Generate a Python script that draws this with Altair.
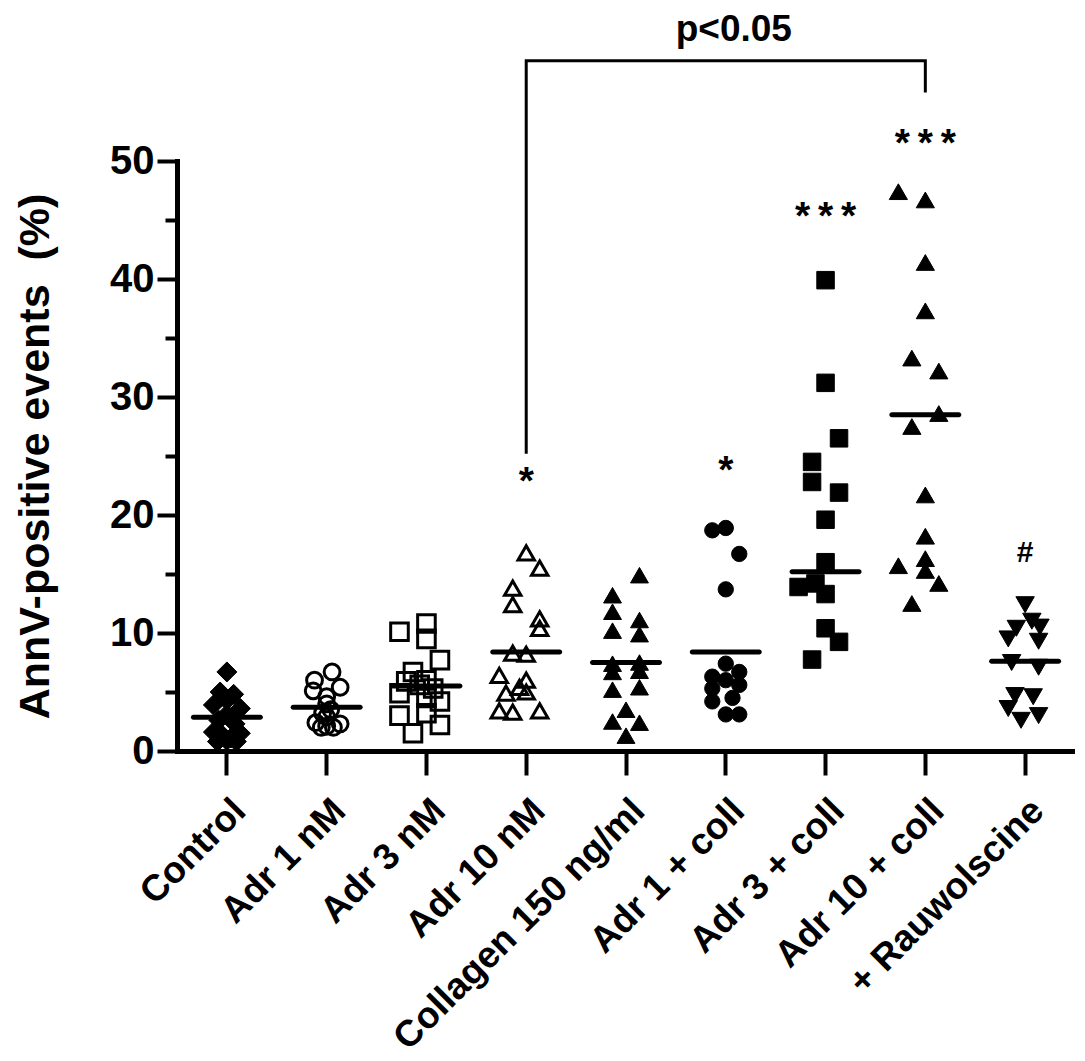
import altair as alt
import pandas as pd

categories = ["Control", "Adr 1 nM", "Adr 3 nM", "Adr 10 nM", "Collagen 150 ng/ml",
              "Adr 1 + coll", "Adr 3 + coll", "Adr 10 + coll", "+ Rauwolscine"]

# values (%), with the symbol column (slot) each point sits in
control_values = [6.7, 5.0, 4.8, 4.3, 3.9, 3.6, 3.1, 2.6, 2.3, 1.6, 1.5, 1.3, 1.1, 0.9, 0.8, 0.8]
control_slots = [0, -0.5, 0.5, 0, -1.0, 1.0, 0, -0.6, 0.6, -1.0, 1.0, -0.3, 0.3, 0, -0.7, 0.7]

adr1_values = [6.7, 6.0, 5.4, 5.1, 4.6, 4.0, 3.5, 3.2, 2.9, 2.4, 2.3, 2.1, 2.0, 2.0]
adr1_slots = [0.4, -0.9, 1.0, -1.0, 0, 0, 0.3, -0.3, 0, -0.8, 1.0, 0, 0.5, -0.4]

adr3_values = [10.1, 10.8, 9.5, 7.7, 6.7, 5.9, 6.0, 5.6, 5.3, 4.9, 4.5, 4.2, 3.0, 3.2, 2.2, 1.5]
adr3_slots = [-2, 0, 0, 1, -1, -1.5, 0, -0.5, 0.5, -2, 0, 1, -2, 0, 1, -1]

adr10_values = [16.8, 15.5, 13.8, 12.4, 11.2, 10.4, 8.3, 8.2, 6.4, 6.0, 5.4, 5.0, 4.9, 3.4, 3.3, 3.4]
adr10_slots = [0, 1, -1, -1, 1, 1, -1, 0, -2, 0, -0.5, 0, -1.5, -2, -1, 1]

coll_values = [14.9, 13.2, 11.8, 11.1, 10.2, 9.9, 7.4, 7.5, 6.7, 6.8, 5.2, 5.4, 3.5, 2.5, 2.4, 1.3]
coll_slots = [1, -1, -1, 1, -1, 1, -1, 1, -1, 1, -1, 1, 0, -1, 1, 0]

adr1c_values = [18.7, 18.9, 16.7, 13.7, 7.4, 6.7, 6.3, 6.0, 5.6, 5.3, 4.5, 4.2, 3.1, 3.1]
adr1c_slots = [-1, 0, 1, 0, 0, 1, -1, 0, 1, -1, 0.5, -1, 0, 1]

adr3c_values = [39.9, 31.2, 26.5, 24.5, 22.8, 21.9, 19.6, 16.0, 14.2, 13.9, 13.3, 10.4, 9.25, 7.75]
adr3c_slots = [0, 0, 1, -1, -1, 1, 0, 0, -0.75, -2, 0, 0, 1, -1]

adr10c_values = [47.4, 46.7, 41.4, 37.3, 33.3, 32.2, 28.6, 27.5, 21.7, 18.2, 16.3, 15.7, 15.3, 14.2, 12.5]
adr10c_slots = [-2, 0, 0, 0, -1, 1, 1, -1, 0, 0, 0, -2, 0, 1, -1]

rauw_values = [12.4, 11.0, 10.4, 10.5, 9.5, 9.3, 7.5, 7.1, 4.7, 4.6, 3.6, 2.6, 3.0]
rauw_slots = [0, 0.5, -0.65, 1.1, -1.25, 1, -1, 1, -0.75, 0.6, -1.25, -0.3, 1]

means = [2.85, 3.7, 5.5, 8.4, 7.5, 8.4, 15.2, 28.5, 7.6]

# marker style per group
shapes = ["diamond", "circle", "square", "triangle-up", "triangle-up",
          "circle", "square", "triangle-up", "triangle-down"]
filled = [True, False, False, False, True, True, True, True, True]
sizes = [400, 250, 310, 270, 320, 235, 306, 330, 340]

# significance marks
sig_groups = ["Adr 10 nM", "Adr 1 + coll", "Adr 3 + coll", "Adr 10 + coll"]
sig_values = [21.75, 22.7, 44.2, 50.4]
sig_texts = ["*", "*", "*\u2009*\u2009*", "*\u2009*\u2009*"]
hash_group = ["+ Rauwolscine"]
hash_value = [16.0]
p_group = ["Adr 1 + coll"]
p_value = [60.2]
bracket_groups = ["Adr 10 nM", "Adr 10 nM", "Adr 10 + coll", "Adr 10 + coll"]
bracket_values = [25.2, 58.5, 58.5, 55.8]

groups_data = [control_values, adr1_values, adr3_values, adr10_values, coll_values,
               adr1c_values, adr3c_values, adr10c_values, rauw_values]
groups_slots = [control_slots, adr1_slots, adr3_slots, adr10_slots, coll_slots,
                adr1c_slots, adr3c_slots, adr10c_slots, rauw_slots]

mean_df = pd.DataFrame({"group": categories, "value": means})
sig_df = pd.DataFrame({"group": sig_groups, "value": sig_values, "label": sig_texts})
hash_df = pd.DataFrame({"group": hash_group, "value": hash_value, "label": ["#"]})
p_df = pd.DataFrame({"group": p_group, "value": p_value, "label": ["p<0.05"]})
br_df = pd.DataFrame({"group": bracket_groups, "value": bracket_values,
                      "ord": list(range(len(bracket_groups)))})

FONT = "Liberation Sans"

x_enc = alt.X("group:N", sort=categories,
              scale=alt.Scale(type="band", domain=categories, paddingInner=0, paddingOuter=0),
              axis=alt.Axis(title=None, labelAngle=-45, labelAlign="right", labelBaseline="middle",
                            labelFont=FONT, labelFontSize=37, labelFontWeight="bold",
                            labelColor="black", labelLimit=600, labelPadding=30, labelOffset=13,
                            tickSize=24, tickWidth=4, tickColor="black",
                            domainWidth=5, domainColor="black", domainCap="square", grid=False))
y_enc = alt.Y("value:Q", scale=alt.Scale(domain=[0, 50], nice=False, zero=True),
              axis=alt.Axis(title="AnnV-positive events\u00a0 (%)",
                            values=[0, 5, 10, 15, 20, 25, 30, 35, 40, 45, 50],
                            labelExpr="datum.value % 10 === 0 ? datum.label : ''",
                            tickSize={"condition": {"test": "datum.value % 10 !== 0", "value": 12},
                                      "value": 20},
                            tickWidth=4, tickColor="black",
                            domainWidth=5, domainColor="black", domainCap="square",
                            labelFont=FONT, labelFontSize=40, labelFontWeight="bold",
                            labelColor="black", labelPadding=3,
                            titleFont=FONT, titleFontSize=43, titleFontWeight="bold",
                            titleColor="black", titlePadding=52, grid=False))
off_enc = alt.XOffset("slot:Q", scale=alt.Scale(domain=[-3.7, 3.7]))

layers = []
for cat, vals, slots, shp, fl, sz in zip(categories, groups_data, groups_slots,
                                         shapes, filled, sizes):
    df = pd.DataFrame({"group": [cat] * len(vals), "value": vals, "slot": slots})
    if fl:
        mk = alt.Chart(df).mark_point(shape=shp, size=sz, filled=True, fill="black",
                                      stroke="black", strokeWidth=1, opacity=1)
    else:
        mk = alt.Chart(df).mark_point(shape=shp, size=sz, filled=False, fill=None,
                                      stroke="black", strokeWidth=3, opacity=1)
    layers.append(mk.encode(x=x_enc, xOffset=off_enc, y=y_enc))

mean_ticks = alt.Chart(mean_df).mark_tick(color="black", thickness=5, size=72, opacity=1,
                                          cornerRadius=2.5).encode(x=x_enc, y=y_enc)

sig = alt.Chart(sig_df).mark_text(font=FONT, fontSize=39, fontWeight="bold", color="black",
                                  baseline="alphabetic", align="center").encode(
    x=x_enc, y=y_enc, text="label:N")
hsh = alt.Chart(hash_df).mark_text(font=FONT, fontSize=30, fontWeight="bold", color="black",
                                   baseline="alphabetic", align="center").encode(
    x=x_enc, y=y_enc, text="label:N")
ptxt = alt.Chart(p_df).mark_text(font=FONT, fontSize=37, fontWeight="bold", color="black",
                                 baseline="alphabetic", align="center", dx=8).encode(
    x=x_enc, y=y_enc, text="label:N")
bracket = alt.Chart(br_df).mark_line(color="black", strokeWidth=3, strokeJoin="miter").encode(
    x=x_enc, y=y_enc, order="ord:Q")

chart = alt.layer(*layers, mean_ticks, bracket, sig, hsh, ptxt).properties(
    width=898, height=590, padding={"left": 6, "top": 2, "right": 0, "bottom": 0}
).configure(background="white").configure_view(stroke=None, strokeWidth=0)

chart.save("out.html", embed_options={"renderer": "svg", "actions": False})
